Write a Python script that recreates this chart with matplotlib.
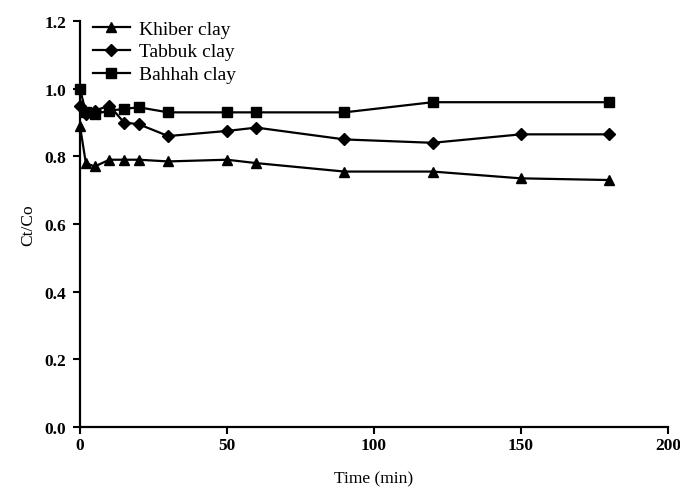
import matplotlib
matplotlib.use('Agg')
import matplotlib.pyplot as plt

plt.rcParams['font.family'] = ['Liberation Serif', 'DejaVu Serif']

# データ
khiber_t = [0, 2, 5, 10, 15, 20, 30, 50, 60, 90, 120, 150, 180]
khiber_v = [0.89, 0.78, 0.77, 0.79, 0.79, 0.79, 0.785, 0.79, 0.78, 0.755, 0.755, 0.735, 0.73]

tabbuk_t = [0, 2, 5, 10, 15, 20, 30, 50, 60, 90, 120, 150, 180]
tabbuk_v = [0.95, 0.925, 0.935, 0.95, 0.90, 0.895, 0.86, 0.875, 0.885, 0.85, 0.84, 0.865, 0.865]

bahhah_t = [0, 2, 5, 10, 15, 20, 30, 50, 60, 90, 120, 180]
bahhah_v = [1.0, 0.93, 0.925, 0.935, 0.94, 0.945, 0.93, 0.93, 0.93, 0.93, 0.96, 0.96]

fig = plt.figure(figsize=(6.8, 4.89), dpi=100)
ax = fig.add_axes([0.1176, 0.1247, 0.8644, 0.8303])

ax.plot(khiber_t, khiber_v, color='black', lw=1.6, marker='^', ms=7.5, label='Khiber clay', clip_on=False)
ax.plot(tabbuk_t, tabbuk_v, color='black', lw=1.6, marker='D', ms=6, label='Tabbuk clay', clip_on=False)
ax.plot(bahhah_t, bahhah_v, color='black', lw=1.6, marker='s', ms=7, label='Bahhah clay', clip_on=False)

ax.set_xlim(0, 200)
ax.set_ylim(0, 1.2)
ax.set_xticks([0, 50, 100, 150, 200])
ax.set_yticks([0.0, 0.2, 0.4, 0.6, 0.8, 1.0, 1.2])
ax.set_yticklabels(['0.0', '0.2', '0.4', '0.6', '0.8', '1.0', '1.2'])

for s in ['top', 'right']:
    ax.spines[s].set_visible(False)
for s in ['left', 'bottom']:
    ax.spines[s].set_linewidth(1.6)

ax.tick_params(direction='out', length=5, width=1.5, labelsize=12.5)
ax.tick_params(axis='x', pad=2.5)
ax.tick_params(axis='y', pad=5)
for lab in ax.get_xticklabels() + ax.get_yticklabels():
    lab.set_fontweight('bold')

ax.set_xlabel('Time (min)', fontsize=12.5, labelpad=12)
ax.set_ylabel('Ct/Co', fontsize=12.5, labelpad=6)

ax.legend(loc='upper left', bbox_to_anchor=(93 / 680, 1 - 21 / 489), bbox_transform=fig.transFigure,
          frameon=False, fontsize=14, borderpad=0, borderaxespad=0,
          handlelength=1.9, labelspacing=0.27, handletextpad=0.45)

plt.savefig('out.png', dpi=100)
